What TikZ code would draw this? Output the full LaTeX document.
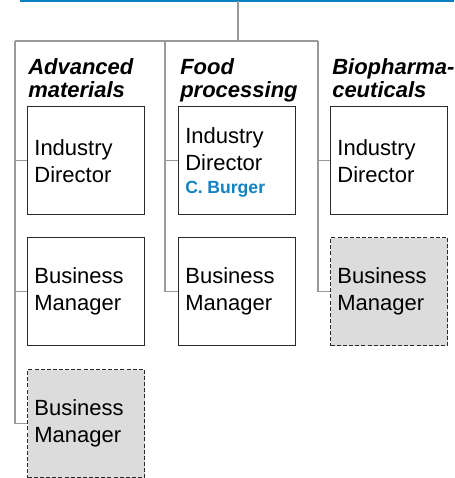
\documentclass[tikz,border=0pt]{standalone}
\usepackage{fontspec}
\setmainfont{Liberation Sans}
\definecolor{topblue}{HTML}{0A7FC0}
\definecolor{namblue}{HTML}{1282C0}
\definecolor{conn}{HTML}{9A9A9A}
\definecolor{boxline}{HTML}{2A2A2A}
\definecolor{vacant}{HTML}{DCDCDC}
\begin{document}
\begin{tikzpicture}[x=0.75pt,y=-0.75pt,
  rolebox/.style={draw=boxline,line width=1.1pt,rectangle,minimum width=87.75pt,minimum height=81pt,
    inner xsep=5pt,inner ysep=0pt,anchor=north west,align=left,text width=77.75pt,
    font=\fontsize{16.5}{20.25}\selectfont},
  vacantbox/.style={rolebox,fill=vacant,dash pattern=on 3pt off 1.6pt},
  header/.style={anchor=north west,inner sep=0pt,align=left,
    font=\fontsize{16.5}{17.25}\selectfont\bfseries\itshape},
  boxtext/.style={anchor=base west,inner sep=0pt,font=\fontsize{16.5}{20.25}\selectfont},
  person/.style={anchor=base west,inner sep=0pt,text=namblue,font=\fontsize{13.2}{17}\selectfont\bfseries},
  link/.style={draw=conn,line width=1.1pt}]
\useasboundingbox (0,0) rectangle (454,478);
% top blue rule
\coordinate (bl) at (20,1);
\coordinate (br) at (454,1);
\draw[topblue,line width=1.6pt] (bl) -- (br);
% trunk
\coordinate (top) at (238,1);
\coordinate (bar) at (238,41);
\coordinate (c1) at (15,41);
\coordinate (c2) at (165,41);
\coordinate (c3) at (318,41);
% headers
\node[header] (h1) at (28,58) {Advanced\\materials};
\node[header] (h2) at (180,58) {Food\\processing};
\node[header] (h3) at (332,58) {Biopharma-\\ceuticals};
% boxes
\node[rolebox] (a1) at (27,106) {Industry\\Director};
\node[rolebox] (a2) at (27,237) {Business\\Manager};
\node[rolebox,vacantbox] (a3) at (27,369) {Business\\Manager};
\node[rolebox] (b1) at (178,106) {};
\node[boxtext] (b1a) at (185,143) {Industry};
\node[boxtext] (b1b) at (185,170) {Director};
\node[person] (b1c) at (185,193) {C.\kern0.26em Burger};
\node[rolebox] (b2) at (178,237) {Business\\Manager};
\node[rolebox] (d1) at (330,106) {Industry\\Director};
\node[rolebox,vacantbox] (d2) at (330,237) {Business\\Manager};
% connectors
\draw[link] (top) -- (bar);
\draw[link] (c1) -- (c3);
\draw[link] (c1) |- (a3.west);
\draw[link] (c1 |- a1.west) -- (a1.west);
\draw[link] (c1 |- a2.west) -- (a2.west);
\draw[link] (c2) |- (b2.west);
\draw[link] (c2 |- b1.west) -- (b1.west);
\draw[link] (c3) |- (d2.west);
\draw[link] (c3 |- d1.west) -- (d1.west);
\end{tikzpicture}
\end{document}
